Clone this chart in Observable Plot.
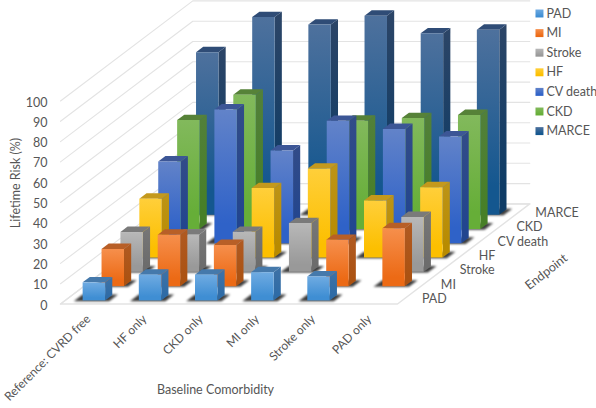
<!DOCTYPE html>
<html>
<head>
<meta charset="utf-8">
<script src="https://cdn.jsdelivr.net/npm/d3@7"></script>
<script src="https://cdn.jsdelivr.net/npm/@observablehq/plot@0.6"></script>
<style>
  html, body { margin: 0; padding: 0; background: #fff; }
  svg { display: block; }
  .shadow { filter: blur(1.3px); }
</style>
</head>
<body>
<div id="chart"></div>
<script>
const comorbidities = ["Reference: CVRD free", "HF only", "CKD only", "MI only", "Stroke only", "PAD only"];
const endpoints = ["PAD", "MI", "Stroke", "HF", "CV death", "CKD", "MARCE"];

const PAD    = [8.9, 12.7, 12.7, 13.9, 11.8, null];
const MI     = [18.3, 25.3, 20.3, null, 22.8, 28.5];
const Stroke = [19.6, 18.3, 19.7, 24, null, 27];
const HF     = [29, null, 34.2, 43.8, 28.1, 34.6];
const CVdeath = [40.3, 65.9, 45.7, 60.3, 56.3, 52.6];
const CKD    = [53.6, 66.1, null, 53.3, 54.6, 56.1];
const MARCE  = [80, 97.3, 93.6, 98, 89.3, 91.1];
const seriesValues = [PAD, MI, Stroke, HF, CVdeath, CKD, MARCE];

const valueTicks = d3.range(0, 101, 10);

// colours: [front top, front bottom, side top, side bottom, top face]
const palette = [
  ["#6fabe2", "#3f8ed3", "#3f72a6", "#2e6ba6", "#4579ab"],
  ["#f68f4c", "#ec6a15", "#b05a22", "#ab5212", "#b85f27"],
  ["#b8b8b8", "#999999", "#777777", "#6c6c6c", "#7a7a7a"],
  ["#ffcf3a", "#fcbf00", "#bd9417", "#b88b00", "#c4991c"],
  ["#6283c9", "#2f62c8", "#324c88", "#22458f", "#3c5696"],
  ["#82b95c", "#66ae38", "#52803a", "#477f27", "#568238"],
  ["#4e719d", "#14578f", "#2c4567", "#0e3c66", "#2f4c76"]
];

// oblique depth: one endpoint step moves this far in category and value units
const skewX = 18.9 / 56.17;
const skewY = 14.3 / 2.03;
const P = (c, e, v) => ({x: c + e * skewX, y: v + e * skewY});
const poly = (...pts) => pts.map(([c, e, v]) => P(c, e, v));
const face = (pts, fill, extra = {}) =>
  Plot.line(pts, {x: "x", y: "y", fill, stroke: "none", curve: "linear-closed", ...extra});

const grid = "#e3e3e3";
const ink = "#565656";
const nc = comorbidities.length, ne = endpoints.length;

const defs = () => {
  const d = d3.create("svg:defs");
  palette.forEach((p, i) => {
    [["f", p[0], p[1]], ["s", p[2], p[3]]].forEach(([k, a, b]) => {
      const g = d.append("linearGradient").attr("id", `g${k}${i}`)
        .attr("x1", 0).attr("y1", 0).attr("x2", 0).attr("y2", 1);
      g.append("stop").attr("offset", "0%").attr("stop-color", a);
      g.append("stop").attr("offset", "85%").attr("stop-color", b);
    });
  });
  return d.node();
};

const marks = [defs];

// floor and walls
marks.push(Plot.line(poly([0,0,0],[nc,0,0],[nc,ne,0],[0,ne,0]),
  {x: "x", y: "y", stroke: grid, curve: "linear-closed"}));
for (const v of valueTicks) {
  marks.push(Plot.line(poly([0,0,v],[0,ne,v],[nc,ne,v]), {x: "x", y: "y", stroke: grid, strokeWidth: 1.1}));
}

// shadows on the floor
seriesValues.forEach((vals, e) => vals.forEach((v, c) => {
  if (v == null) return;
  marks.push(face(poly([c+.17,e+.2,0],[c+.8,e+.2,0],[c+.8,e+.66,0],[c+.17,e+.66,0]),
    "#1c1c1c", {className: "shadow", fillOpacity: 0.85}));
}));

// bars, back to front
for (let e = ne - 1; e >= 0; e--) {
  seriesValues[e].forEach((v, c) => {
    if (v == null) return;
    const c0 = c + .31, c1 = c + .71, e0 = e + .25, e1 = e + .63;
    marks.push(face(poly([c1,e0,0],[c1,e1,0],[c1,e1,v],[c1,e0,v]), `url(#gs${e})`));
    marks.push(face(poly([c0,e0,v],[c1,e0,v],[c1,e1,v],[c0,e1,v]), palette[e][4]));
    marks.push(face(poly([c0,e0,0],[c1,e0,0],[c1,e0,v],[c0,e0,v]), `url(#gf${e})`));
  });
}

// value and category axes
marks.push(Plot.axisY({ticks: valueTicks, tickSize: 0, tickPadding: 13, label: null, color: ink, dy: 1.5}));
marks.push(Plot.axisX({
  ticks: comorbidities.map((_, i) => i + .5),
  tickFormat: t => comorbidities[t - .5],
  tickRotate: -45, tickSize: 0, tickPadding: 13, label: null, color: ink, fontSize: 12
}));

// endpoint axis
marks.push(Plot.text(endpoints.map((name, e) => ({name, ...P(nc, e + .5, 0)})), {
  x: "x", y: "y", text: "name", textAnchor: "start", dx: 15, dy: 2, fill: ink
}));

// axis titles
marks.push(Plot.text(["Lifetime Risk (%)"], {x: -.8, y: 59.6, text: d => d, rotate: -90, fill: ink}));
marks.push(Plot.text(["Baseline Comorbidity"], {x: 2.76, y: -42.6, text: d => d, fill: ink}));
marks.push(Plot.text(["Endpoint"], {x: 8.65, y: 15.8, text: d => d, rotate: -38, fill: ink}));

// legend at the right of the chart
const legendRows = endpoints.map((name, i) => ({name, i, y: (303.5 - (13 + 19.6 * i)) / 2.03}));
legendRows.forEach(r => {
  marks.push(Plot.dot([r], {x: (539 - 60) / 56.17, y: "y", symbol: "square", r: 4.5, fill: `url(#gf${r.i})`, stroke: "none"}));
});
marks.push(Plot.text(legendRows, {x: (546 - 60) / 56.17, y: "y", text: "name", textAnchor: "start", fill: ink}));

const chart = Plot.plot({
  width: 596,
  height: 408,
  marginLeft: 60,
  marginRight: 199,
  marginTop: 100.5,
  marginBottom: 104.5,
  style: {fontFamily: "Lato, sans-serif", fontSize: "12.5px", background: "#fff", color: ink},
  x: {domain: [0, nc], axis: null},
  y: {domain: [0, 100], axis: null},
  marks
});
document.getElementById("chart").appendChild(chart);
</script>
</body>
</html>
